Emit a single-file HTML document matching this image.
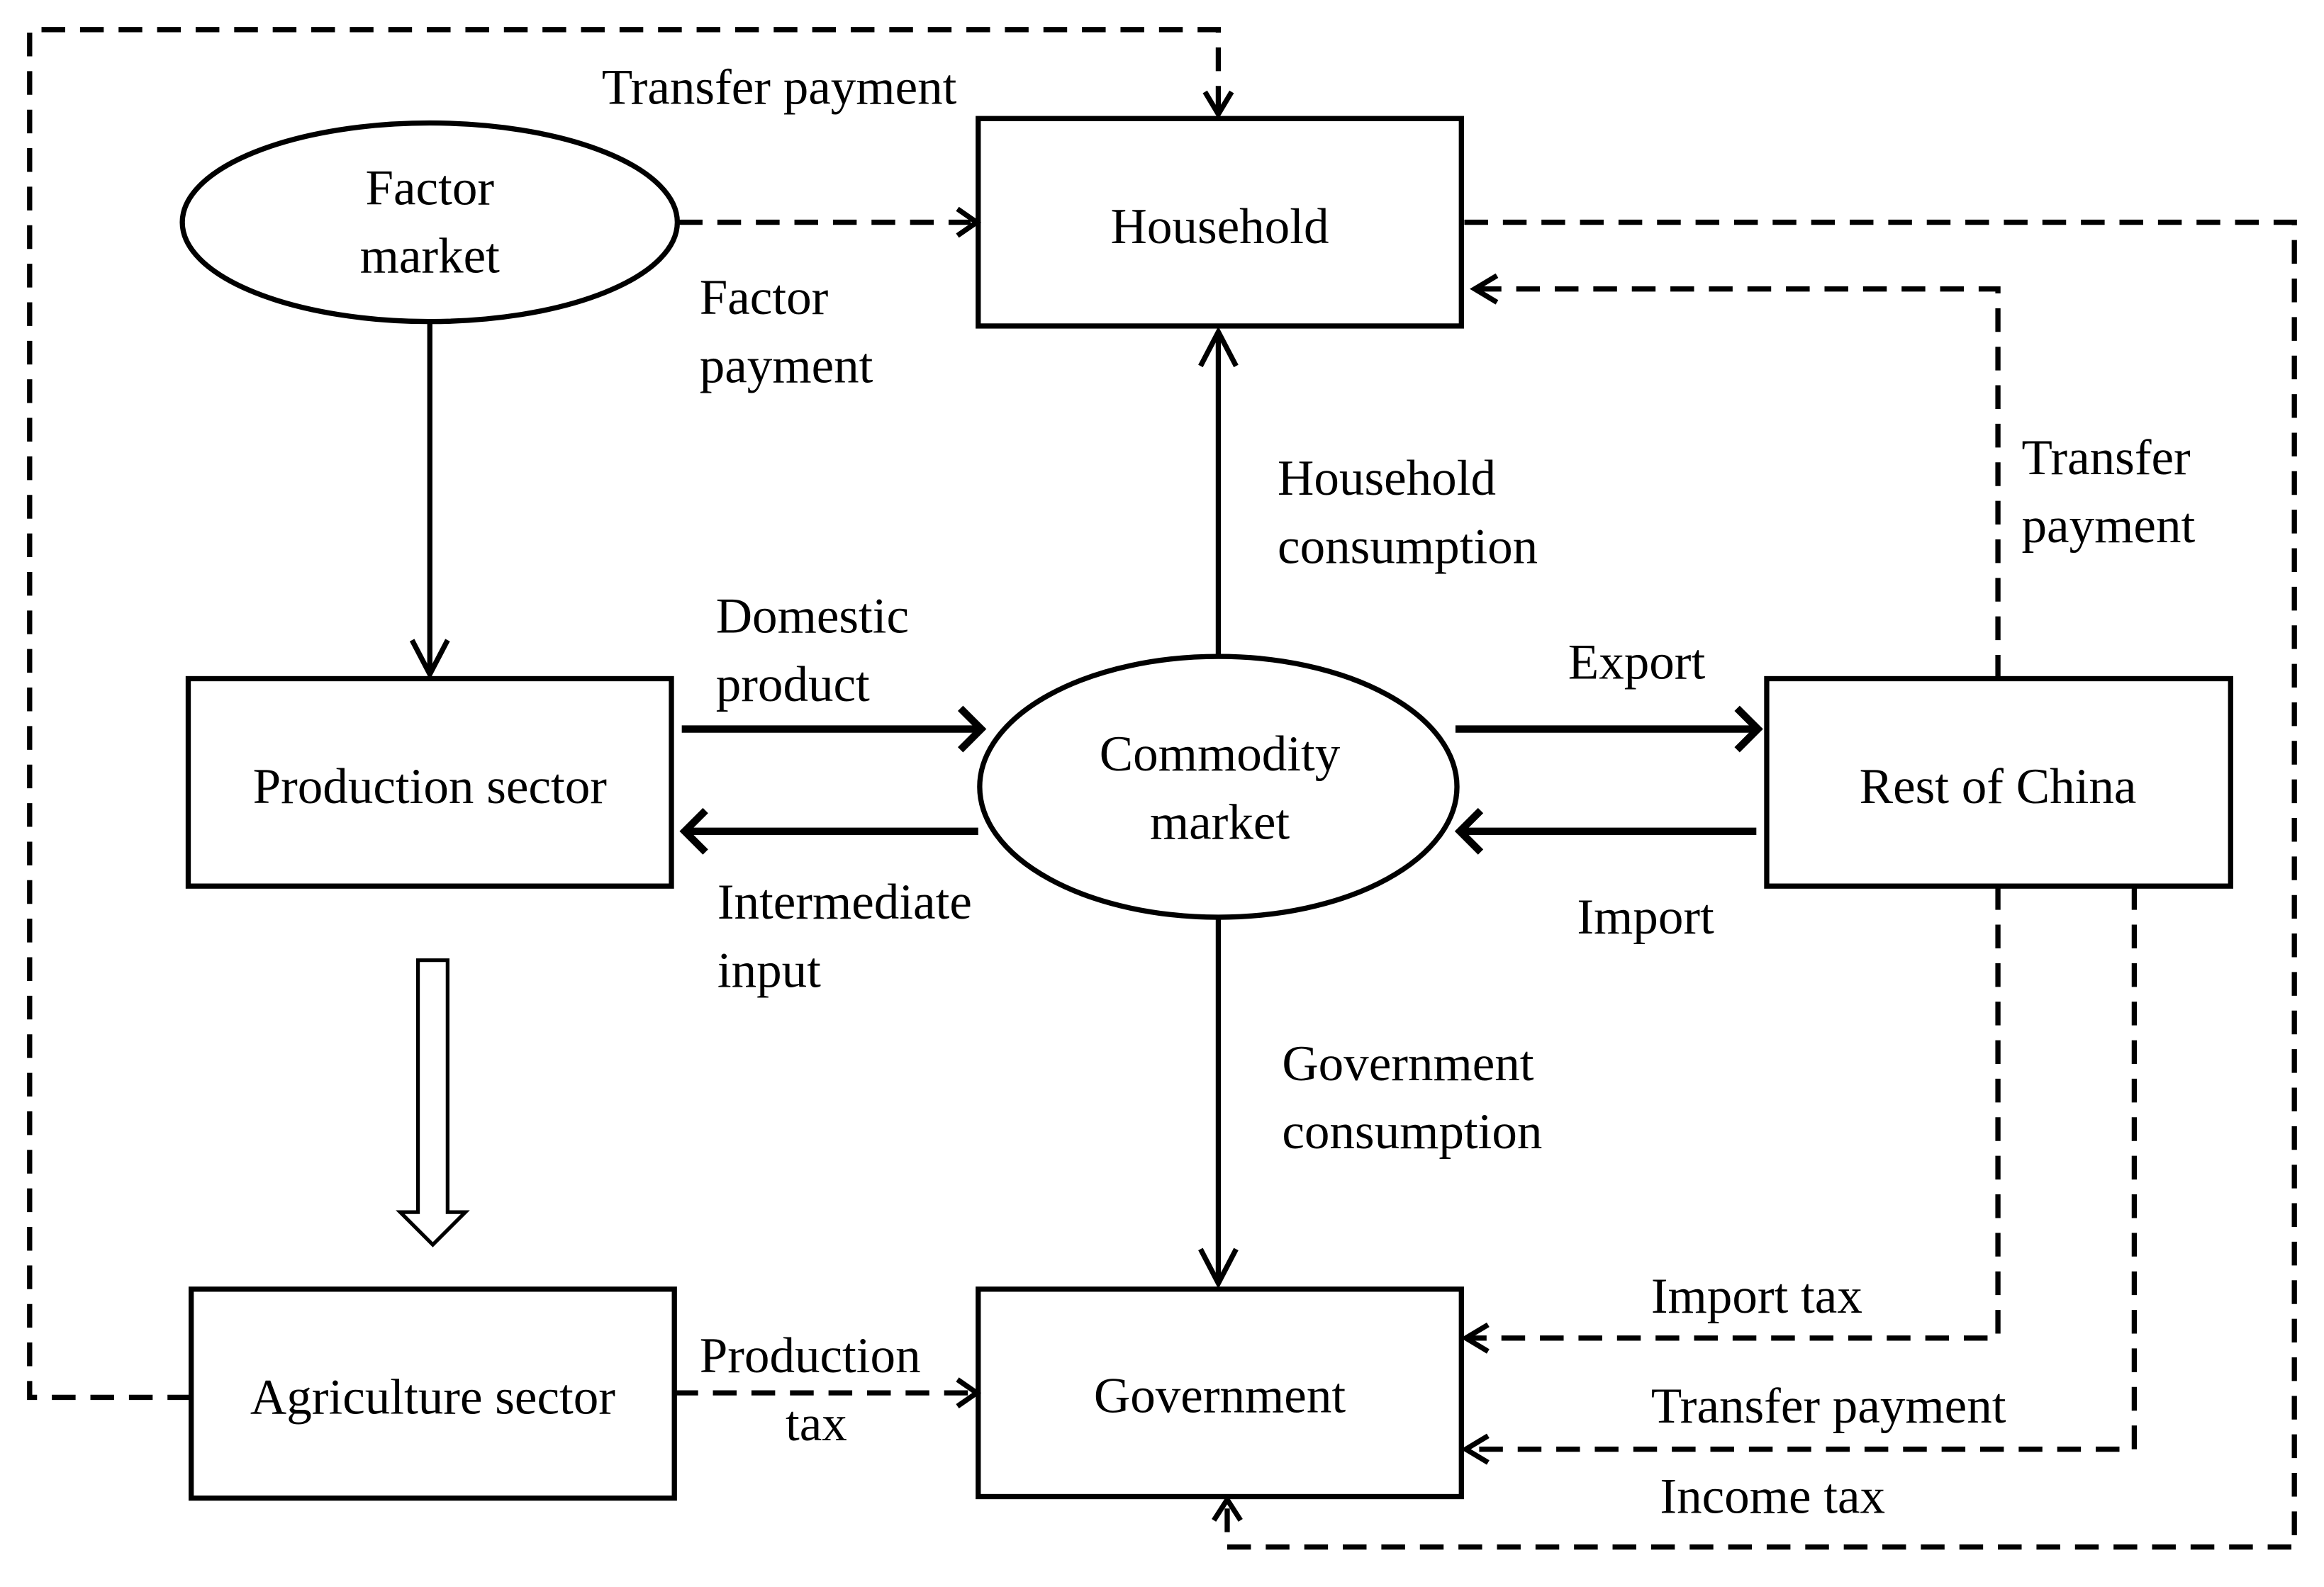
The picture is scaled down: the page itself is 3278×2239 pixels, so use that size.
<!DOCTYPE html>
<html><head><meta charset="utf-8"><style>
html,body{margin:0;padding:0;background:#fff;}
svg{display:block;}
text{font-family:"Liberation Serif",serif;font-size:34px;fill:#000;}
</style></head><body>
<svg width="3278" height="2239" viewBox="0 0 1568 1071" preserveAspectRatio="none" xmlns="http://www.w3.org/2000/svg">
<g fill="none" stroke="#000" stroke-width="3.5">
<rect x="660" y="80" width="326" height="140"/>
<rect x="127" y="458" width="326" height="140"/>
<rect x="1192" y="458" width="313" height="140"/>
<rect x="129" y="870" width="326" height="141"/>
<rect x="660" y="870" width="326" height="140"/>
<ellipse cx="290" cy="150" rx="167" ry="67"/>
<ellipse cx="822" cy="531" rx="161" ry="88"/>
</g>
<!-- solid arrows -->
<g fill="none" stroke="#000" stroke-width="3.5" stroke-linejoin="miter">
<line x1="290" y1="218" x2="290" y2="455"/><polyline points="278,432 290,455 302,432"/>
<line x1="822" y1="442" x2="822" y2="224"/><polyline points="810,247 822,224 834,247"/>
<line x1="822" y1="620" x2="822" y2="866"/><polyline points="810,843 822,866 834,843"/>
</g>
<g fill="none" stroke="#000" stroke-width="5">
<line x1="460" y1="492" x2="662" y2="492"/><polyline points="648,478 662,492 648,506"/>
<line x1="660" y1="561" x2="462" y2="561"/><polyline points="476,547 462,561 476,575"/>
<line x1="982" y1="492" x2="1186" y2="492"/><polyline points="1172,478 1186,492 1172,506"/>
<line x1="1185" y1="561" x2="985" y2="561"/><polyline points="999,547 985,561 999,575"/>
</g>
<!-- hollow arrow -->
<polygon points="282,648 302,648 302,818 314,818 292,840 270,818 282,818" fill="#fff" stroke="#000" stroke-width="2.5"/>
<!-- dashed -->
<g fill="none" stroke="#000" stroke-width="3.5" stroke-dasharray="16,10">
<polyline points="129,943 20,943 20,20 822,20 822,76"/>
<line x1="458" y1="150" x2="655" y2="150"/>
<polyline points="988,150 1548,150 1548,1044 828,1044 828,1014"/>
<polyline points="1348,458 1348,195 996,195"/>
<polyline points="1348,598 1348,903 990,903"/>
<polyline points="1440,598 1440,978 990,978"/>
<line x1="455" y1="940" x2="655" y2="940"/>
</g>
<g fill="none" stroke="#000" stroke-width="3.5">
<polyline points="813,62 822,77 831,62"/>
<polyline points="646,141 659,150 646,159"/>
<polyline points="819,1026 828,1012 837,1026"/>
<polyline points="1010,186 995,195 1010,204"/>
<polyline points="1004,894 989,903 1004,912"/>
<polyline points="1004,969 989,978 1004,987"/>
<polyline points="646,931 659,940 646,949"/>
</g>
<!-- node text -->
<g text-anchor="middle">
<text x="823" y="164">Household</text>
<text x="290" y="138">Factor</text>
<text x="290" y="184">market</text>
<text x="290" y="542">Production sector</text>
<text x="823" y="520">Commodity</text>
<text x="823" y="566">market</text>
<text x="1348" y="542">Rest of China</text>
<text x="292" y="954">Agriculture sector</text>
<text x="823" y="953">Government</text>
</g>
<!-- labels -->
<text x="406" y="70">Transfer payment</text>
<text x="472" y="212">Factor</text>
<text x="472" y="258">payment</text>
<text x="862" y="334">Household</text>
<text x="862" y="380">consumption</text>
<text x="1364" y="320">Transfer</text>
<text x="1364" y="366">payment</text>
<text x="483" y="427">Domestic</text>
<text x="483" y="473">product</text>
<text x="1058" y="458">Export</text>
<text x="484" y="620">Intermediate</text>
<text x="484" y="666">input</text>
<text x="1064" y="630">Import</text>
<text x="865" y="729">Government</text>
<text x="865" y="775">consumption</text>
<text x="1114" y="886">Import tax</text>
<text x="472" y="926">Production</text>
<text x="530" y="972">tax</text>
<text x="1114" y="960">Transfer payment</text>
<text x="1120" y="1021">Income tax</text>
</svg>
</body></html>
